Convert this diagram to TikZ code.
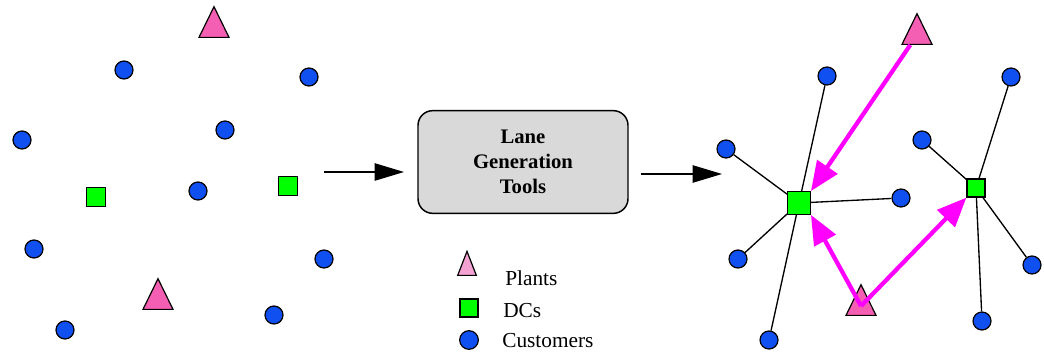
\documentclass[tikz,border=0pt]{standalone}
\usepackage{fontspec}
\setmainfont{Liberation Serif}
\usetikzlibrary{arrows.meta,shapes.geometric}
\definecolor{custblue}{HTML}{1050F0}
\definecolor{dcgreen}{HTML}{00FF00}
\definecolor{plantpink}{HTML}{F45FB4}
\definecolor{legendpink}{HTML}{F4A2D2}
\definecolor{boxgray}{HTML}{D9D9D9}
\definecolor{lanemagenta}{HTML}{FF00FF}

\begin{document}
\begin{tikzpicture}[x=0.75pt,y=-0.75pt,
    customer/.style={circle,draw,fill=custblue,line width=0.9pt,minimum size=13.5pt,inner sep=0},
    dc/.style={rectangle,draw,fill=dcgreen,line width=0.9pt,minimum size=14pt,inner sep=0},
    plant/.style={isosceles triangle,isosceles triangle stretches,shape border rotate=90,draw,fill=plantpink,line width=0.9pt,minimum width=22.5pt,minimum height=23pt,inner sep=0},
    link/.style={line width=1pt},
    lane/.style={lanemagenta,line width=3.2pt,-{Triangle[length=22pt,width=18pt]}},
    flow/.style={line width=1pt,-{Triangle[length=22pt,width=13pt]}},
    keytext/.style={anchor=base west,inner sep=0,font=\fontsize{16}{19}\selectfont}]
    \useasboundingbox (0,0) rectangle (1044,352);
    % before: plants, DCs and customers
    \node[plant] (plant1) at (214,28) {};
    \node[plant] (plant2) at (158,300) {};
    \node[dc] (dc1) at (96,197) {};
    \node[dc] (dc2) at (288,186) {};
    \foreach \n/\p in {1/{124,70},2/{309,77},3/{22,140},4/{225,130},5/{198,191},6/{34,249},7/{324,259},8/{274,315},9/{65,330}}
        \node[customer] (cust\n) at (\p) {};
    % lane generation tools
    \node (tools) [draw,fill=boxgray,line width=1.1pt,rounded corners=11pt,minimum width=157.5pt,minimum height=77pt,align=center,
        font=\bfseries\fontsize{15.5}{18.75}\selectfont] at (523,162) {Lane\\Generation\\Tools};
    \coordinate (in1) at (324,172);
    \coordinate (in2) at (404,172);
    \coordinate (out1) at (641,174);
    \coordinate (out2) at (722,174);
    \draw[flow] (in1) -- (in2);
    \draw[flow] (out1) -- (out2);
    % after: lanes
    \node[plant] (plantA) at (917,35) {};
    \node[plant] (plantB) at (861,306) {};
    \node[dc,minimum size=17pt] (dcA) at (799,203) {};
    \node[dc,minimum size=13.5pt] (dcB) at (976,188) {};
    \foreach \n/\p in {1/{827,76},2/{726,149},3/{901,198},4/{738,259},5/{769,340},6/{1011,77},7/{922,140},8/{1032,265},9/{982,321}}
        \node[customer] (lane\n) at (\p) {};
    \path[link] (dcA) edge (lane1) edge (lane2) edge (lane3) edge (lane4) edge (lane5)
        (dcB) edge (lane6) edge (lane7) edge (lane8) edge (lane9);
    \draw[lane] (plantA) -- (dcA.north east);
    \draw[lane] (plantB.center) -- (dcA.south east);
    \draw[lane] (plantB.center) -- (dcB.south west);
    % legend
    \node[plant,fill=legendpink,minimum width=14pt,minimum height=18pt] (keyplant) at (467,269) {};
    \node[dc,minimum size=13.5pt] (keydc) at (469,308) {};
    \node[customer,minimum size=14pt] (keycust) at (469,340) {};
    \node[keytext] (keyplanttext) at (505,286) {Plants};
    \node[keytext] (keydctext) at (503,317) {DCs};
    \node[keytext] (keycusttext) at (502,347) {Customers};
\end{tikzpicture}
\end{document}
